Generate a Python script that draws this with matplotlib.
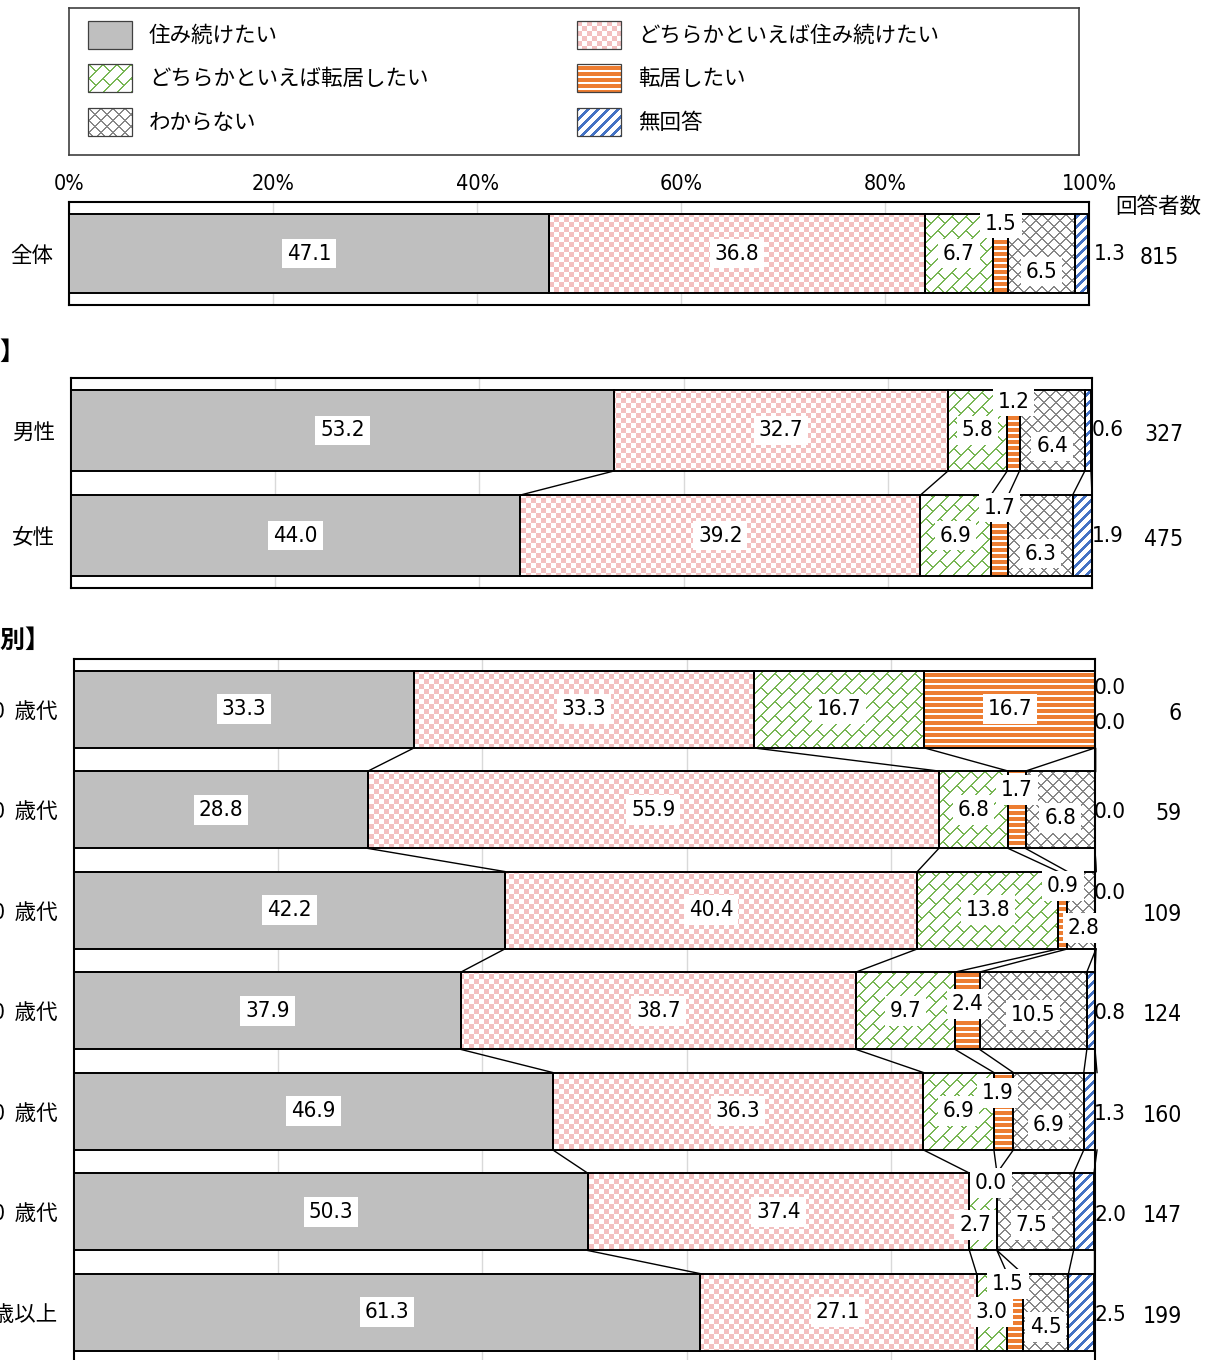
import numpy as np
import matplotlib
matplotlib.use("Agg")
import matplotlib.pyplot as plt
from matplotlib import font_manager
from matplotlib.font_manager import FontProperties
from matplotlib.path import Path
from matplotlib.patches import Rectangle

# ---- data ----
series = ['住み続けたい', 'どちらかといえば住み続けたい', 'どちらかといえば転居したい',
          '転居したい', 'わからない', '無回答']
kinds = ['solid', 'check', 'brick', 'hstripe', 'cross', 'diag']

total_labels = ['全体']
total_vals = [[47.1, 36.8, 6.7, 1.5, 6.5, 1.3]]
total_n = [815]

gender_labels = ['男性', '女性']
gender_vals = [[53.2, 32.7, 5.8, 1.2, 6.4, 0.6],
               [44.0, 39.2, 6.9, 1.7, 6.3, 1.9]]
gender_n = [327, 475]

age_labels = ['10  歳代', '20  歳代', '30  歳代', '40  歳代', '50  歳代', '60  歳代', '70 歳以上']
age_vals = [[33.3, 33.3, 16.7, 16.7, 0.0, 0.0],
            [28.8, 55.9, 6.8, 1.7, 6.8, 0.0],
            [42.2, 40.4, 13.8, 0.9, 2.8, 0.0],
            [37.9, 38.7, 9.7, 2.4, 10.5, 0.8],
            [46.9, 36.3, 6.9, 1.9, 6.9, 1.3],
            [50.3, 37.4, 2.7, 0.0, 7.5, 2.0],
            [61.3, 27.1, 3.0, 1.5, 4.5, 2.5]]
age_n = [6, 59, 109, 124, 160, 147, 199]

# label nudges in pixels (dx, dy down); 'out' = beside the 100% edge
total_shift = {(0, 3): (0, -30), (0, 4): (0, 18)}
gender_shift = {(0, 3): (0, -29), (0, 4): (0, 16),
                (1, 3): (0, -28), (1, 4): (0, 18)}
age_shift = {(0, 4): ('out', -21), (0, 5): ('out', 14),
             (1, 3): (0, -20), (1, 4): (0, 8), (1, 5): ('out', 2),
             (2, 3): (0, -24), (2, 4): (2, 18), (2, 5): ('out', -17),
             (3, 3): (0, -7), (3, 4): (0, 4), (3, 5): ('out', 2),
             (4, 3): (-6, -18), (4, 4): (0, 14), (4, 5): ('out', 3),
             (5, 2): (-8, 13), (5, 3): (-6, -29), (5, 4): (-4, 13), (5, 5): ('out', 3),
             (6, 3): (-7, -28), (6, 4): (0, 15), (6, 5): ('out', 3)}

# ---- fonts ----
JP = 'Noto Sans CJK JP'
plt.rcParams['font.family'] = [JP, 'DejaVu Sans']

narrow = None
for f in font_manager.fontManager.ttflist:
    if f.style != 'normal' or f.weight not in (400, 'normal', 'regular'):
        continue
    if (f.stretch in ('condensed', 'semi-condensed', 'extra-condensed')
            or 'Narrow' in f.name or 'Condensed' in f.name):
        narrow = f
        break
if narrow is not None:
    NUMFP = FontProperties(fname=narrow.fname)
    NUM_SIZE = 16
else:
    NUMFP = FontProperties(family='Liberation Sans')
    NUM_SIZE = 15

GREY = '#BFBFBF'
PINK = np.array([243, 192, 192]) / 255
GREEN = np.array([120, 182, 84]) / 255
ORANGE = np.array([237, 125, 49]) / 255
XGREY = np.array([135, 135, 135]) / 255
BLUE = np.array([68, 114, 196]) / 255
BAR_H = 0.77

FW, FH = 1212, 1360


def texture(kind, h, w):
    i, j = np.mgrid[0:h, 0:w]
    u, v = i + j, j - i
    img = np.ones((h, w, 3))
    if kind == 'check':
        mask = ((i // 5 + j // 5) % 2) == 0
        color = PINK
    elif kind == 'brick':
        p = 14
        mask = (u % p < 2) | (((v - (u // p % 2) * p) % (2 * p)) < 2)
        color = GREEN
    elif kind == 'hstripe':
        mask = (i % 6) >= 2
        color = ORANGE
    elif kind == 'cross':
        mask = (u % 12 < 2) | (v % 12 < 2)
        color = XGREY
    else:
        mask = (u % 10) < 4
        color = BLUE
    img[mask] = color
    return img


def fill_texture(ax, patches, kind, extent):
    bb = ax.get_window_extent()
    w, h = int(round(bb.width)), int(round(bb.height))
    im = ax.imshow(texture(kind, h, w), extent=extent, aspect='auto',
                   interpolation='nearest', zorder=2)
    path = Path.make_compound_path(
        *[p.get_path().transformed(p.get_patch_transform()) for p in patches])
    im.set_clip_path(path, ax.transData)


def draw_panel(ax, labels, vals, counts, shifts, out_dx, n_dx, lab_pad):
    vals = np.array(vals, dtype=float)
    n = len(labels)
    y = np.arange(n)
    cum = np.cumsum(vals, axis=1)
    left = cum - vals
    for k, kind in enumerate(kinds):
        bars = ax.barh(y, vals[:, k], left=left[:, k], height=BAR_H,
                       color=GREY if kind == 'solid' else 'none',
                       edgecolor='black', linewidth=1.4, zorder=3)
        if kind != 'solid':
            fill_texture(ax, bars, kind, (0, 100, n - 0.5, -0.5))
    ax.set_xlim(0, 100)
    ax.set_ylim(n - 0.5, -0.5)

    # series lines between neighbouring bars
    for r in range(n - 1):
        for k in range(6):
            ax.plot([cum[r, k], cum[r + 1, k]],
                    [r + BAR_H / 2, r + 1 - BAR_H / 2],
                    color='black', lw=1, zorder=2.5, clip_on=False)

    for r in range(n):
        for k in range(6):
            v = vals[r, k]
            sh = shifts.get((r, k))
            if k == 5 or (sh is not None and sh[0] == 'out'):
                dy = sh[1] if sh else 0
                ax.annotate(f'{v:.1f}', xy=(100, r), xytext=(out_dx, -dy),
                            textcoords='offset pixels', ha='center', va='center',
                            fontproperties=NUMFP, fontsize=NUM_SIZE,
                            annotation_clip=False, zorder=6)
            else:
                dx, dy = sh if sh else (0, 0)
                ax.annotate(f'{v:.1f}', xy=(cum[r, k] - v / 2, r), xytext=(dx, -dy),
                            textcoords='offset pixels', ha='center', va='center',
                            fontproperties=NUMFP, fontsize=NUM_SIZE, zorder=6,
                            bbox=dict(boxstyle='square,pad=0.22', fc='white', ec='none'))
        ax.annotate(str(counts[r]), xy=(100, r), xytext=(n_dx, -4),
                    textcoords='offset pixels', ha='right', va='center',
                    fontproperties=NUMFP, fontsize=NUM_SIZE + 0.5, annotation_clip=False)

    ax.set_yticks(y)
    ax.set_yticklabels(labels, fontsize=15.5)
    ax.tick_params(axis='y', length=0, pad=lab_pad)
    ax.set_xticks([20, 40, 60, 80])
    ax.tick_params(axis='x', length=0, labelbottom=False)
    ax.grid(axis='x', color='#D9D9D9', lw=1)
    ax.set_axisbelow(True)
    for s in ax.spines.values():
        s.set_linewidth(1.5)
        s.set_color('black')


fig = plt.figure(figsize=(FW / 100, FH / 100), dpi=100)


def add_axes(x0, x1, y0, y1):
    return fig.add_axes([x0 / FW, 1 - y1 / FH, (x1 - x0) / FW, (y1 - y0) / FH])


# ---- legend box ----
axl = add_axes(69, 1079, 8, 155)
axl.set_xticks([])
axl.set_yticks([])
for s in axl.spines.values():
    s.set_color('#404040')
    s.set_linewidth(1.2)
for idx, (name, kind) in enumerate(zip(series, kinds)):
    x0 = 88 if idx % 2 == 0 else 577
    yc = [35, 78, 122][idx // 2]
    if kind == 'solid':
        axl.add_patch(Rectangle((x0, yc - 14), 44, 28, facecolor=GREY, edgecolor='none'))
    else:
        axl.imshow(texture(kind, 28, 44), extent=(x0, x0 + 44, yc + 14, yc - 14),
                   aspect='auto', interpolation='nearest')
    axl.add_patch(Rectangle((x0, yc - 14), 44, 28, facecolor='none',
                            edgecolor='#404040', lw=0.9, zorder=3))
    axl.text(x0 + 61, yc + 1, name, ha='left', va='center', fontsize=15.5)
axl.set_xlim(69, 1079)
axl.set_ylim(155, 8)

# ---- panels ----
ax1 = add_axes(69, 1089, 202, 305)
draw_panel(ax1, total_labels, total_vals, total_n, total_shift, 21, 90, 11.5)
ax1.set_xticks([0, 20, 40, 60, 80, 100])
ax1.set_xticklabels([f'{t}%' for t in [0, 20, 40, 60, 80, 100]],
                    fontproperties=NUMFP, fontsize=NUM_SIZE - 0.5)
ax1.tick_params(axis='x', top=True, labeltop=True, bottom=False, labelbottom=False,
                length=0, pad=6)

ax2 = add_axes(71, 1092, 378, 588)
draw_panel(ax2, gender_labels, gender_vals, gender_n, gender_shift, 16, 91, 11.5)

ax3 = add_axes(74, 1095, 659, 1362.5)
draw_panel(ax3, age_labels, age_vals, age_n, age_shift, 15, 87, 12)

fig.text(1158 / FW, 1 - 207 / FH, '回答者数', ha='center', va='center', fontsize=15.5)
fig.text(25 / FW, 1 - 353 / FH, '【性別】', ha='right', va='center', fontsize=18, weight='bold')
fig.text(50 / FW, 1 - 641 / FH, '【年代別】', ha='right', va='center', fontsize=18, weight='bold')

fig.savefig('out.png', dpi=100)
